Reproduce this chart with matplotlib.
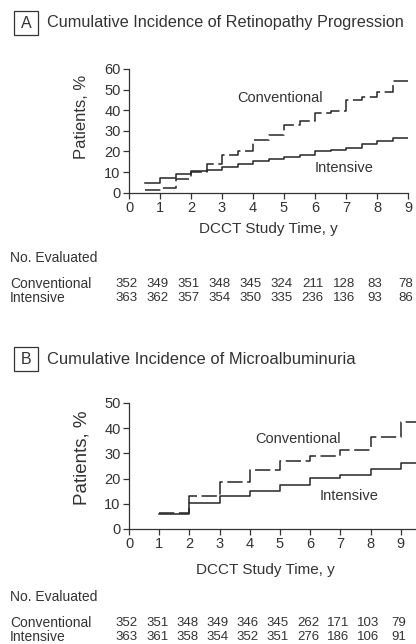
import numpy as np
import matplotlib
matplotlib.use("Agg")
import matplotlib.pyplot as plt
from matplotlib.patches import Rectangle
from matplotlib.transforms import blended_transform_factory

plt.rcParams['font.family'] = ['Liberation Sans', 'DejaVu Sans']

# panel A - retinopathy progression (half-year steps)
years_a = [0.5, 1, 1.5, 2, 2.5, 3, 3.5, 4, 4.5, 5, 5.5, 6, 6.5, 7, 7.5, 8, 8.5]
end_a = 9
conv_a = [1.2, 2.3, 6.6, 10.0, 14.0, 18.2, 20.0, 25.6, 28.2, 32.8, 35.0, 38.5,
          39.8, 45.0, 46.6, 48.9, 54.2]
int_a = [4.6, 7.3, 9.2, 10.7, 10.9, 12.6, 14.1, 15.3, 16.4, 17.5, 18.3, 20.0,
         20.9, 21.9, 23.6, 25.3, 26.5]
n_conv_a = [352, 349, 351, 348, 345, 324, 211, 128, 83, 78]
n_int_a = [363, 362, 357, 354, 350, 335, 236, 136, 93, 86]

# panel B - microalbuminuria (yearly steps)
years_b = [1, 2, 3, 4, 5, 6, 7, 8, 9]
end_b = 9.5
conv_b = [6.2, 13.2, 18.5, 23.4, 27.0, 29.0, 31.2, 36.5, 42.3]
int_b = [5.9, 10.2, 13.2, 15.2, 17.4, 20.3, 21.4, 23.8, 26.3]
n_conv_b = [352, 351, 348, 349, 346, 345, 262, 171, 103, 79]
n_int_b = [363, 361, 358, 354, 352, 351, 276, 186, 106, 91]

W, H = 416, 644
TXT = '#333333'
LINE = '#262626'

fig = plt.figure(figsize=(W / 100, H / 100), dpi=100)


def fx(px):
    return px / W


def fy(py):
    return 1 - py / H


def panel(letter, title, ty, tsize, rect, xs, end, conv, inten, ymax, xmax,
          conv_lab, int_lab, ylab_y, ylab_size, xlab_y, tab_y, n_conv, n_int):
    # boxed letter + title
    fig.add_artist(Rectangle((fx(14), fy(ty + 12)), fx(24), 24 / H,
                             transform=fig.transFigure, fill=False,
                             ec=TXT, lw=0.9))
    fig.text(fx(26), fy(ty), letter, ha='center', va='center', fontsize=11.5,
             color=TXT)
    fig.text(fx(47), fy(ty), title, ha='left', va='center', fontsize=tsize,
             color=TXT)

    ax = fig.add_axes(rect)
    ax.step(list(xs) + [end], list(conv) + [conv[-1]], where='post',
            color=LINE, lw=1.1, linestyle=(0, (10, 3)))
    ax.step(list(xs) + [end], list(inten) + [inten[-1]], where='post',
            color=LINE, lw=1.1)
    ax.set_xlim(0, xmax)
    ax.set_ylim(0, ymax)
    ax.set_xticks(range(10))
    ax.set_yticks(range(0, ymax + 1, 10))
    for s in ['top', 'right']:
        ax.spines[s].set_visible(False)
    for s in ['left', 'bottom']:
        ax.spines[s].set_color(TXT)
        ax.spines[s].set_linewidth(0.9)
    ax.tick_params(direction='out', length=4, width=0.9, colors=TXT,
                   labelsize=10.5, pad=2)
    ax.text(*conv_lab, 'Conventional', fontsize=10.5, color=TXT,
            ha='left', va='center')
    ax.text(*int_lab, 'Intensive', fontsize=10.5, color=TXT,
            ha='left', va='center')

    fig.text(fx(82), fy(ylab_y), 'Patients, %', rotation=90, ha='center',
             va='center', fontsize=ylab_size, color=TXT)
    fig.text(fx(129) + rect[2] * 9 / xmax / 2, fy(xlab_y),
             'DCCT Study Time, y', ha='center', va='center', fontsize=11,
             color=TXT)

    fig.text(fx(10), fy(tab_y), 'No. Evaluated', ha='left', va='center',
             fontsize=10, color=TXT)
    fig.text(fx(10), fy(tab_y + 26), 'Conventional', ha='left', va='center',
             fontsize=10, color=TXT)
    fig.text(fx(10), fy(tab_y + 40), 'Intensive', ha='left', va='center',
             fontsize=10, color=TXT)
    tr = blended_transform_factory(ax.transData, fig.transFigure)
    for i, (c, n) in enumerate(zip(n_conv, n_int)):
        fig.text(i - 0.07, fy(tab_y + 26), str(c), transform=tr,
                 ha='center', va='center', fontsize=9.5, color=TXT)
        fig.text(i - 0.07, fy(tab_y + 40), str(n), transform=tr,
                 ha='center', va='center', fontsize=9.5, color=TXT)
    return ax


panel('A', 'Cumulative Incidence of Retinopathy Progression', 23, 11.7,
      [fx(129), fy(192.7), fx(408) - fx(129), (192.7 - 69) / H],
      years_a, end_a, conv_a, int_a, 60, 9,
      (3.48, 46), (6.0, 12), 117, 12, 229, 258, n_conv_a, n_int_a)

panel('B', 'Cumulative Incidence of Microalbuminuria', 359, 11.9,
      [fx(129), fy(529), 9.5 * 30.2 / W, 126 / H],
      years_b, end_b, conv_b, int_b, 50, 9.5,
      (4.17, 35.7), (6.3, 13.1), 458, 13.5, 570, 597, n_conv_b, n_int_b)

fig.savefig('out.png', dpi=100)
